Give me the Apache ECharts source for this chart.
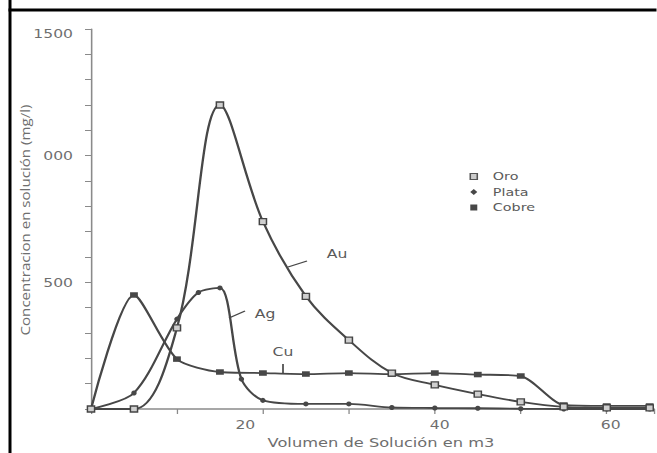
<!DOCTYPE html>
<html><head><meta charset="utf-8">
<script src="https://cdn.jsdelivr.net/npm/echarts@6/dist/echarts.min.js"></script>
<style>html,body{margin:0;padding:0;background:#fff;overflow:hidden}#c{height:453px;transform-origin:0 0}</style>
</head><body><div id="c"></div>
<script>
// Data (x in m3, y in mg/l)
const volOro   = [0, 5, 10, 15, 20, 25, 30, 35, 40, 45, 50, 55, 60, 65];
const oro      = [0, 0, 320, 1200, 740, 445, 272, 142, 95, 59, 28, 8, 4, 4];
const volPlata = [0, 5, 10, 12.5, 15, 17.5, 20, 25, 30, 35, 40, 45, 50, 55, 60, 65];
const plata    = [0, 63, 355, 460, 478, 118, 34, 20, 20, 6, 4, 3, 1, 0, 0, 0];
const volCobre = [0, 5, 10, 15, 20, 25, 30, 35, 40, 45, 50, 55, 60, 65];
const cobre    = [0, 450, 197, 146, 142, 138, 142, 138, 142, 136, 130, 16, 12, 12];
const seriesNames = ['Oro', 'Plata', 'Cobre'];
const yTickLabels = {500: '500', 1000: '000', 1500: '1500'};
const xTickLabels = {20: '20', 40: '40', 60: '60'};
const curveLabels = ['Au', 'Ag', 'Cu'];
const yAxisTitle = 'Concentracion en solución (mg/l)';
const xAxisTitle = 'Volumen de Solución en m3';

// The reference figure is a horizontally stretched scan: draw narrower, then stretch.
const S = 1.3;
const W = 657 / S;
const X = px => px / S;            // reference pixel x -> chart x
const dom = document.getElementById('c');
dom.style.width = W + 'px';
dom.style.transform = 'scaleX(' + S + ')';

const zip = (xs, ys) => xs.map((x, i) => [x, ys[i]]);
const col = '#474747';
const txt = '#6e6e6e';
const font = 'DejaVu Sans';
// label nudges (scan misalignment), in chart px
const xLabelPad = {20: [0, 27, 0, 0], 40: [0, 0, 0, 7.5], 60: [0, 0, 0, 6]};
const yLabelPad = {500: [0, 0, 0, 0], 1000: [0, 0, 0, 0], 1500: [10, 0, 0, 0]};

const richFrom = (pads) => Object.fromEntries(Object.keys(pads).map(k =>
  ['v' + k, {padding: pads[k], color: txt, fontSize: 12, fontFamily: font}]));

const chart = echarts.init(dom, null, {renderer: 'svg', width: W, height: 453});
chart.setOption({
  animation: false,
  backgroundColor: '#fff',
  textStyle: {fontFamily: font},
  grid: {left: X(91), top: 29, right: X(3), bottom: 44, containLabel: false, outerBoundsMode: 'none'},
  legend: {
    orient: 'vertical', left: X(463), top: 166, itemWidth: X(7), itemHeight: 6, itemGap: 4.5,
    textStyle: {color: '#5a5a5a', fontSize: 11, fontFamily: font, padding: [0, 0, 0, 7]},
    data: [
      {name: 'Oro', icon: 'rect', itemStyle: {color: '#ccc', borderColor: '#555', borderWidth: 1.2}},
      {name: 'Plata', icon: 'diamond', itemStyle: {color: col}},
      {name: 'Cobre', icon: 'rect', itemStyle: {color: col}}
    ]
  },
  xAxis: {
    type: 'value', min: 0, max: 65.5, interval: 10,
    name: xAxisTitle, nameLocation: 'middle', nameGap: 26,
    nameTextStyle: {color: txt, fontSize: 12.5, fontFamily: font, padding: [0, 0, 0, 13]},
    splitLine: {show: false},
    axisLine: {lineStyle: {color: '#8a8a8a', width: 1.5}},
    axisTick: {length: 5, lineStyle: {color: '#8a8a8a', width: 1}},
    axisLabel: {
      color: txt, fontSize: 12, margin: 10, fontFamily: font,
      formatter: v => xTickLabels[v] ? '{v' + v + '|' + xTickLabels[v] + '}' : '',
      rich: richFrom(xLabelPad)
    }
  },
  yAxis: {
    type: 'value', min: 0, max: 1500, interval: 100,
    splitLine: {show: false},
    axisLine: {show: true, lineStyle: {color: '#8a8a8a', width: 1.2}},
    axisTick: {show: true, length: X(6), lineStyle: {color: '#8a8a8a', width: 1}},
    axisLabel: {color: txt, fontSize: 12, margin: X(18), fontFamily: font,
      formatter: v => yTickLabels[v] ? '{v' + v + '|' + yTickLabels[v] + '}' : '',
      rich: richFrom(yLabelPad)}
  },
  series: [
    {name: seriesNames[0], type: 'line', smooth: 0.35, data: zip(volOro, oro),
     symbol: 'rect', symbolSize: [5.5, 6], lineStyle: {color: col, width: 1.8},
     itemStyle: {color: '#cfcfcf', borderColor: '#444', borderWidth: 1.2}, z: 3},
    {name: seriesNames[1], type: 'line', smooth: 0.3, data: zip(volPlata, plata),
     symbol: 'circle', symbolSize: [4.2, 5], lineStyle: {color: col, width: 1.8},
     itemStyle: {color: col}, z: 2},
    {name: seriesNames[2], type: 'line', smooth: 0.25, data: zip(volCobre, cobre),
     symbol: 'rect', symbolSize: [6, 5.5], lineStyle: {color: col, width: 1.8},
     itemStyle: {color: col}, z: 2}
  ],
  graphic: [
    {type: 'line', shape: {x1: X(10), y1: 0, x2: X(10), y2: 453}, style: {stroke: '#000', lineWidth: X(3)}},
    {type: 'line', shape: {x1: X(8.5), y1: 10, x2: W, y2: 10}, style: {stroke: '#000', lineWidth: 3}},
    {type: 'text', x: X(25), y: 220, rotation: Math.PI / 2, scaleX: 1.21, scaleY: 1 / S,
     style: {text: yAxisTitle, fill: txt, fontSize: 12.5, fontFamily: 'Open Sans', textAlign: 'center', textVerticalAlign: 'middle'}},
    {type: 'text', x: X(337), y: 254, style: {text: curveLabels[0], fill: '#5a5a5a', fontSize: 12, fontFamily: font, textAlign: 'center', textVerticalAlign: 'middle'}},
    {type: 'line', shape: {x1: X(288), y1: 267, x2: X(307), y2: 261}, style: {stroke: col, lineWidth: 1.3}},
    {type: 'text', x: X(265), y: 314, style: {text: curveLabels[1], fill: '#5a5a5a', fontSize: 12, fontFamily: font, textAlign: 'center', textVerticalAlign: 'middle'}},
    {type: 'line', shape: {x1: X(229), y1: 318, x2: X(245), y2: 311}, style: {stroke: col, lineWidth: 1.3}},
    {type: 'text', x: X(283), y: 352, style: {text: curveLabels[2], fill: '#5a5a5a', fontSize: 12, fontFamily: font, textAlign: 'center', textVerticalAlign: 'middle'}},
    {type: 'line', shape: {x1: X(283), y1: 364, x2: X(283), y2: 374}, style: {stroke: col, lineWidth: 1.3}}
  ]
});
</script></body></html>
